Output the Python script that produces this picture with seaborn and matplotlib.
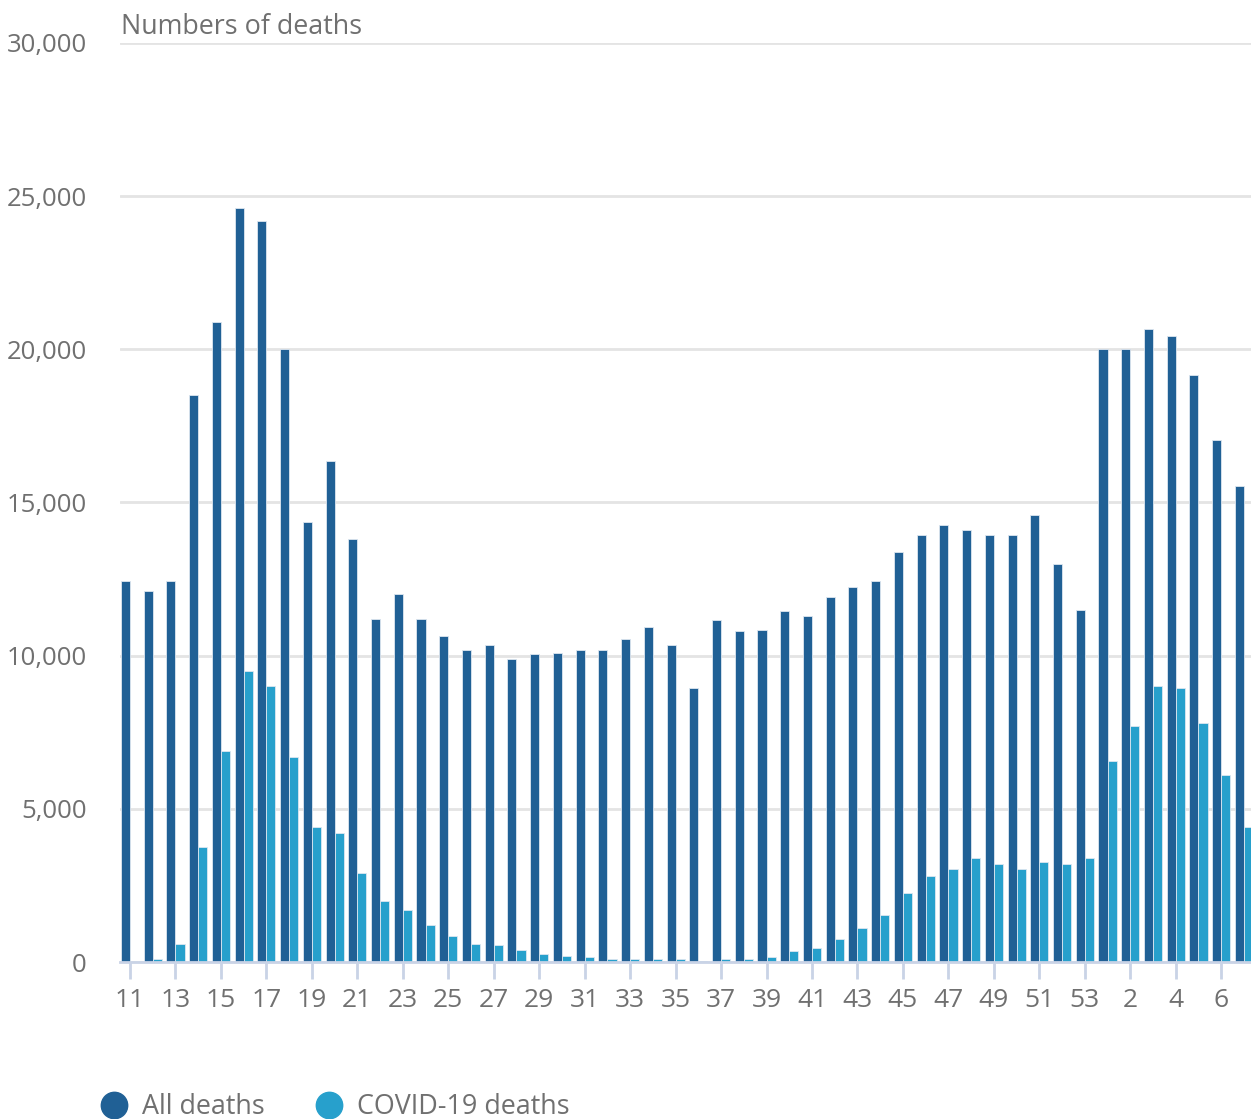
import pandas as pd
import seaborn as sns
import matplotlib.pyplot as plt
from matplotlib.lines import Line2D
from matplotlib.ticker import FuncFormatter

# Week numbers (2020 weeks 11-53, then 2021 weeks 1-7)
weeks = [str(w) for w in range(11, 54)] + [str(w) for w in range(1, 8)]

all_deaths = [
    12450, 12100, 12450, 18500, 20900, 24600, 24200, 20000, 14350, 16350,
    13800, 11200, 12000, 11200, 10650, 10200, 10350, 9900, 10050, 10100,
    10200, 10200, 10550, 10950, 10350, 8950, 11150, 10800, 10850, 11450,
    11300, 11900, 12250, 12450, 13400, 13950, 14250, 14100, 13950, 13950,
    14600, 13000, 11500, 20000, 20000, 20650, 20450, 19150, 17050, 15550,
]
covid_deaths = [
    5, 100, 600, 3750, 6900, 9500, 9000, 6700, 4400, 4200,
    2900, 2000, 1700, 1200, 850, 600, 550, 400, 250, 200,
    150, 100, 100, 100, 100, 30, 100, 100, 150, 350,
    450, 750, 1100, 1550, 2250, 2800, 3050, 3400, 3200, 3050,
    3250, 3200, 3400, 6550, 7700, 9000, 8950, 7800, 6100, 4400,
]
series_names = ["All deaths", "COVID-19 deaths"]

dark_blue = "#206095"
light_blue = "#27a0cc"
text_grey = "#707070"

df = pd.DataFrame({
    "week": weeks * 2,
    "deaths": all_deaths + covid_deaths,
    "series": [series_names[0]] * len(weeks) + [series_names[1]] * len(weeks),
})

sns.set_style("white")
plt.rcParams["font.family"] = ["Open Sans", "DejaVu Sans"]

fig = plt.figure(figsize=(12.51, 11.19), dpi=100)
ax = fig.add_axes([120 / 1251, 1 - 962 / 1119, 1 - 120 / 1251, (962 - 43) / 1119])

sns.barplot(
    data=df, x="week", y="deaths", hue="series", order=weeks,
    hue_order=series_names, palette=[dark_blue, light_blue],
    width=0.8, edgecolor="#dde6f0", linewidth=0.6, saturation=1,
    legend=False, ax=ax, zorder=3,
)

ax.set_ylim(0, 30000)
ax.set_xlim(-0.44, len(weeks) - 1 + 0.31)
ax.set_yticks(range(0, 30001, 5000))
ax.yaxis.set_major_formatter(FuncFormatter(lambda v, _: f"{int(v):,}"))
ax.grid(axis="y", color="#e4e4e4", linewidth=2, zorder=0)
ax.grid(axis="x", visible=False)
ax.set_axisbelow(True)

ax.set_xticks(range(0, len(weeks), 2))
ax.set_xticklabels(weeks[::2])
ax.tick_params(axis="x", bottom=True, length=12, width=2, color="#c9d3e6",
               pad=7, labelsize=19, labelcolor=text_grey)
ax.tick_params(axis="y", left=False, length=0, pad=24, labelsize=18.5,
               labelcolor=text_grey)

for side in ["top", "right", "left"]:
    ax.spines[side].set_visible(False)
ax.spines["bottom"].set_color("#c9d3e6")
ax.spines["bottom"].set_linewidth(2)
ax.spines["bottom"].set_zorder(4)

ax.set_xlabel("")
ax.set_ylabel("")
fig.text(121 / 1251, 1 - 27 / 1119, "Numbers of deaths", fontsize=19.4,
         color=text_grey, va="center", ha="left")

handles = [
    Line2D([], [], marker="o", linestyle="none", markersize=19,
           markerfacecolor=c, markeredgecolor=c)
    for c in [dark_blue, light_blue]
]
fig.legend(handles, series_names, loc="center left",
           bbox_to_anchor=(98 / 1251, 1 - 1107 / 1119), ncol=2, frameon=False,
           fontsize=19.4, labelcolor=text_grey, handletextpad=0.45,
           columnspacing=1.75, borderpad=0, borderaxespad=0, handlelength=1.2)

fig.savefig("out.png", dpi=100)
